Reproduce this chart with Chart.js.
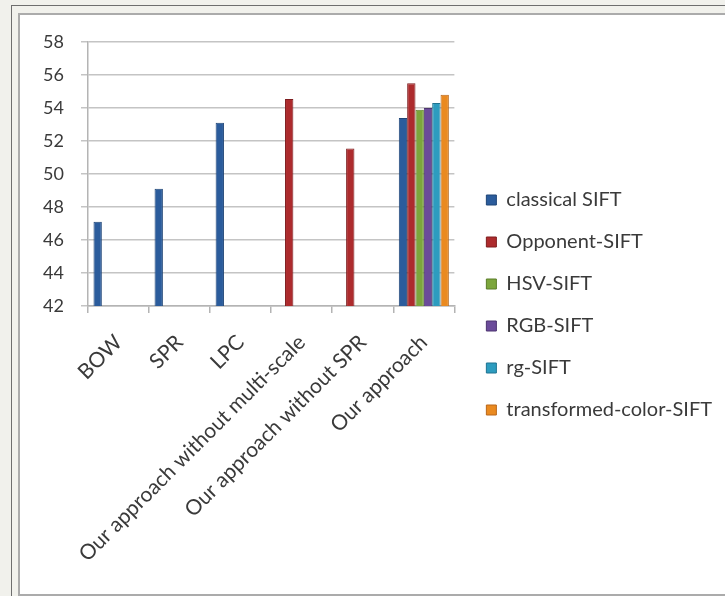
<!DOCTYPE html>
<html>
<head>
<meta charset="utf-8">
<script src="https://cdn.jsdelivr.net/npm/chart.js@4.4.0/dist/chart.umd.min.js"></script>
<style>
  html, body { margin: 0; padding: 0; }
  body { width: 725px; height: 596px; background: #f1f1ec; position: relative; overflow: hidden; }
  #outer { position: absolute; left: 11px; top: 5px; width: 740px; height: 620px; border: 1px solid #6e6e6e; }
  #inner { position: absolute; left: 18px; top: 13px; width: 740px; height: 579px; border: 2px solid #ababab; background: #fff; }
  #wrap { position: absolute; left: 0; top: 0; width: 725px; height: 596px; }
</style>
</head>
<body>
<div id="outer"></div>
<div id="inner"></div>
<div id="wrap"><canvas id="chart" width="725" height="596"></canvas></div>
<script>
// categories and series
var categories = ["BOW", "SPR", "LPC", "Our approach without multi-scale", "Our approach without SPR", "Our approach"];
var classicalSift = [47.1, 49.1, 53.1, null, null, 53.4];
var opponentSift = [null, null, null, 54.55, 51.55, 55.5];
var hsvSift = [null, null, null, null, null, 53.9];
var rgbSift = [null, null, null, null, null, 54.0];
var rgSift = [null, null, null, null, null, 54.3];
var transformedSift = [null, null, null, null, null, 54.8];
var yTicks = [42, 44, 46, 48, 50, 52, 54, 56, 58];

var seriesNames = ["classical SIFT", "Opponent-SIFT", "HSV-SIFT", "RGB-SIFT", "rg-SIFT", "transformed-color-SIFT"];
var seriesValues = [classicalSift, opponentSift, hsvSift, rgbSift, rgSift, transformedSift];
var fills = ["#2b5c9c", "#ad2b2d", "#7ca63c", "#6b4b9a", "#2d9cbf", "#ea8a20"];
var edges = ["#1f4577", "#7e1d1f", "#5a7d28", "#4c3470", "#1f7391", "#b9671a"];

var datasets = seriesNames.map(function(name, i) {
  return {
    label: name,
    data: seriesValues[i],
    backgroundColor: fills[i],
    borderColor: edges[i],
    borderWidth: 1,
    barPercentage: 1.0,
    categoryPercentage: 0.82
  };
});

var font = "Lato, 'Open Sans', sans-serif";

var chart = new Chart(document.getElementById("chart"), {
  type: "bar",
  data: { labels: categories, datasets: datasets },
  options: {
    responsive: false,
    animation: false,
    layout: { padding: { left: 30, top: 42, right: 3, bottom: 28 } },
    plugins: {
      tooltip: { enabled: false },
      legend: {
        position: "right",
        maxWidth: 320,
        labels: {
          boxWidth: 10,
          boxHeight: 10,
          padding: 22,
          color: "#3a3a3a",
          font: { family: font, size: 20 }
        }
      }
    },
    scales: {
      x: {
        grid: { display: true, drawOnChartArea: false, tickLength: 7, color: "#b4b4b4", lineWidth: 1.5 },
        border: { display: true, color: "#b4b4b4", width: 1.5 },
        ticks: {
          color: "#3a3a3a",
          font: { family: font, size: 21 },
          minRotation: 45,
          maxRotation: 45,
          autoSkip: false,
          padding: 17
        },
        afterFit: function(scale) { scale.height = 262; }
      },
      y: {
        min: 42,
        max: 58,
        afterBuildTicks: function(scale) {
          scale.ticks = yTicks.map(function(v) { return { value: v }; });
        },
        grid: { color: "#c4c4c4", lineWidth: 1.5, tickLength: 7 },
        border: { display: true, color: "#b4b4b4", width: 1.5 },
        ticks: { color: "#3a3a3a", font: { family: font, size: 18 }, padding: 17 },
        afterFit: function(scale) { scale.width = 58; }
      },
      gap: {
        type: "linear",
        position: "right",
        display: true,
        grid: { display: false },
        border: { display: false },
        ticks: { display: false },
        afterFit: function(scale) { scale.width = 10; }
      }
    }
  }
});
</script>
</body>
</html>
